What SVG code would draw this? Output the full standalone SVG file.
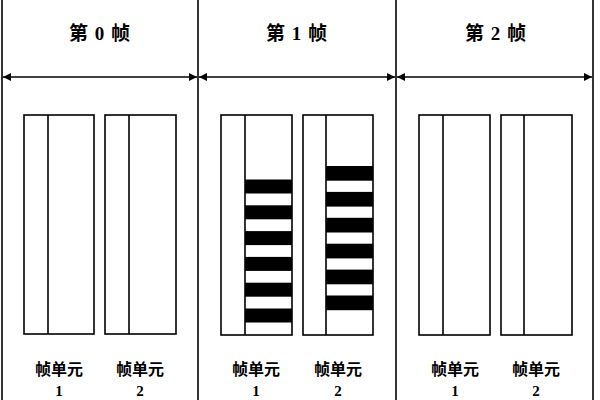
<svg xmlns="http://www.w3.org/2000/svg" width="600" height="400" viewBox="0 0 600 400">
<defs>
<marker id="ah" viewBox="0 0 10 10" refX="10" refY="5" markerWidth="8" markerHeight="8" markerUnits="userSpaceOnUse" orient="auto-start-reverse">
<path d="M0,0 L10,5 L0,10 z" fill="#000"/>
</marker>
<style>
.ln{stroke:#000;stroke-width:1.6;fill:none}
.box{stroke:#000;stroke-width:1.6;fill:#fff}
.bar{fill:#000}
.t{font-family:"Liberation Serif","Noto Sans CJK SC",serif;font-weight:bold;fill:#000;text-anchor:middle}
.title{font-size:19px;letter-spacing:1px}
.lbl{font-size:16px}
.num{font-size:15px}
</style>
</defs>
<rect width="600" height="400" fill="#fff"/>
<g id="connectors">
<line class="ln" x1="2" y1="0" x2="2" y2="400"/>
<line class="ln" x1="198" y1="0" x2="198" y2="400"/>
<line class="ln" x1="396" y1="0" x2="396" y2="400"/>
<line class="ln" x1="593" y1="0" x2="593" y2="400"/>
<line class="ln" x1="3" y1="77" x2="197" y2="77" marker-start="url(#ah)" marker-end="url(#ah)"/>
<line class="ln" x1="199" y1="77" x2="395" y2="77" marker-start="url(#ah)" marker-end="url(#ah)"/>
<line class="ln" x1="397" y1="77" x2="592" y2="77" marker-start="url(#ah)" marker-end="url(#ah)"/>
</g>
<g id="frame0">
<text class="t title" x="100" y="40">第 0 帧</text>
<g id="f0u1">
<rect class="box" x="24" y="115" width="70" height="219"/>
<line class="ln" x1="48" y1="115" x2="48" y2="334"/>
<text class="t lbl" x="59" y="375">帧单元</text>
<text class="t num" x="59" y="396">1</text>
</g>
<g id="f0u2">
<rect class="box" x="105" y="115" width="71" height="219"/>
<line class="ln" x1="129" y1="115" x2="129" y2="334"/>
<text class="t lbl" x="140" y="375">帧单元</text>
<text class="t num" x="140" y="396">2</text>
</g>
</g>
<g id="frame1">
<text class="t title" x="297" y="40">第 1 帧</text>
<g id="f1u1">
<rect class="box" x="221" y="115" width="71" height="220"/>
<line class="ln" x1="245" y1="115" x2="245" y2="335"/>
<rect class="bar" x="245" y="179.5" width="47" height="14"/>
<rect class="bar" x="245" y="205.3" width="47" height="14"/>
<rect class="bar" x="245" y="231.1" width="47" height="14"/>
<rect class="bar" x="245" y="256.9" width="47" height="14"/>
<rect class="bar" x="245" y="282.7" width="47" height="14"/>
<rect class="bar" x="245" y="308.5" width="47" height="14"/>
<text class="t lbl" x="256" y="375">帧单元</text>
<text class="t num" x="256" y="396">1</text>
</g>
<g id="f1u2">
<rect class="box" x="303" y="115" width="70" height="220"/>
<line class="ln" x1="326" y1="115" x2="326" y2="335"/>
<rect class="bar" x="326" y="166" width="47" height="14.7"/>
<rect class="bar" x="326" y="191.9" width="47" height="14.7"/>
<rect class="bar" x="326" y="217.8" width="47" height="14.7"/>
<rect class="bar" x="326" y="243.7" width="47" height="14.7"/>
<rect class="bar" x="326" y="269.6" width="47" height="14.7"/>
<rect class="bar" x="326" y="295.5" width="47" height="14.7"/>
<text class="t lbl" x="338" y="375">帧单元</text>
<text class="t num" x="338" y="396">2</text>
</g>
</g>
<g id="frame2">
<text class="t title" x="496" y="40">第 2 帧</text>
<g id="f2u1">
<rect class="box" x="419" y="115" width="71" height="220"/>
<line class="ln" x1="443" y1="115" x2="443" y2="335"/>
<text class="t lbl" x="455" y="375">帧单元</text>
<text class="t num" x="455" y="396">1</text>
</g>
<g id="f2u2">
<rect class="box" x="501" y="115" width="71" height="220"/>
<line class="ln" x1="524" y1="115" x2="524" y2="335"/>
<text class="t lbl" x="536" y="375">帧单元</text>
<text class="t num" x="536" y="396">2</text>
</g>
</g>
</svg>
